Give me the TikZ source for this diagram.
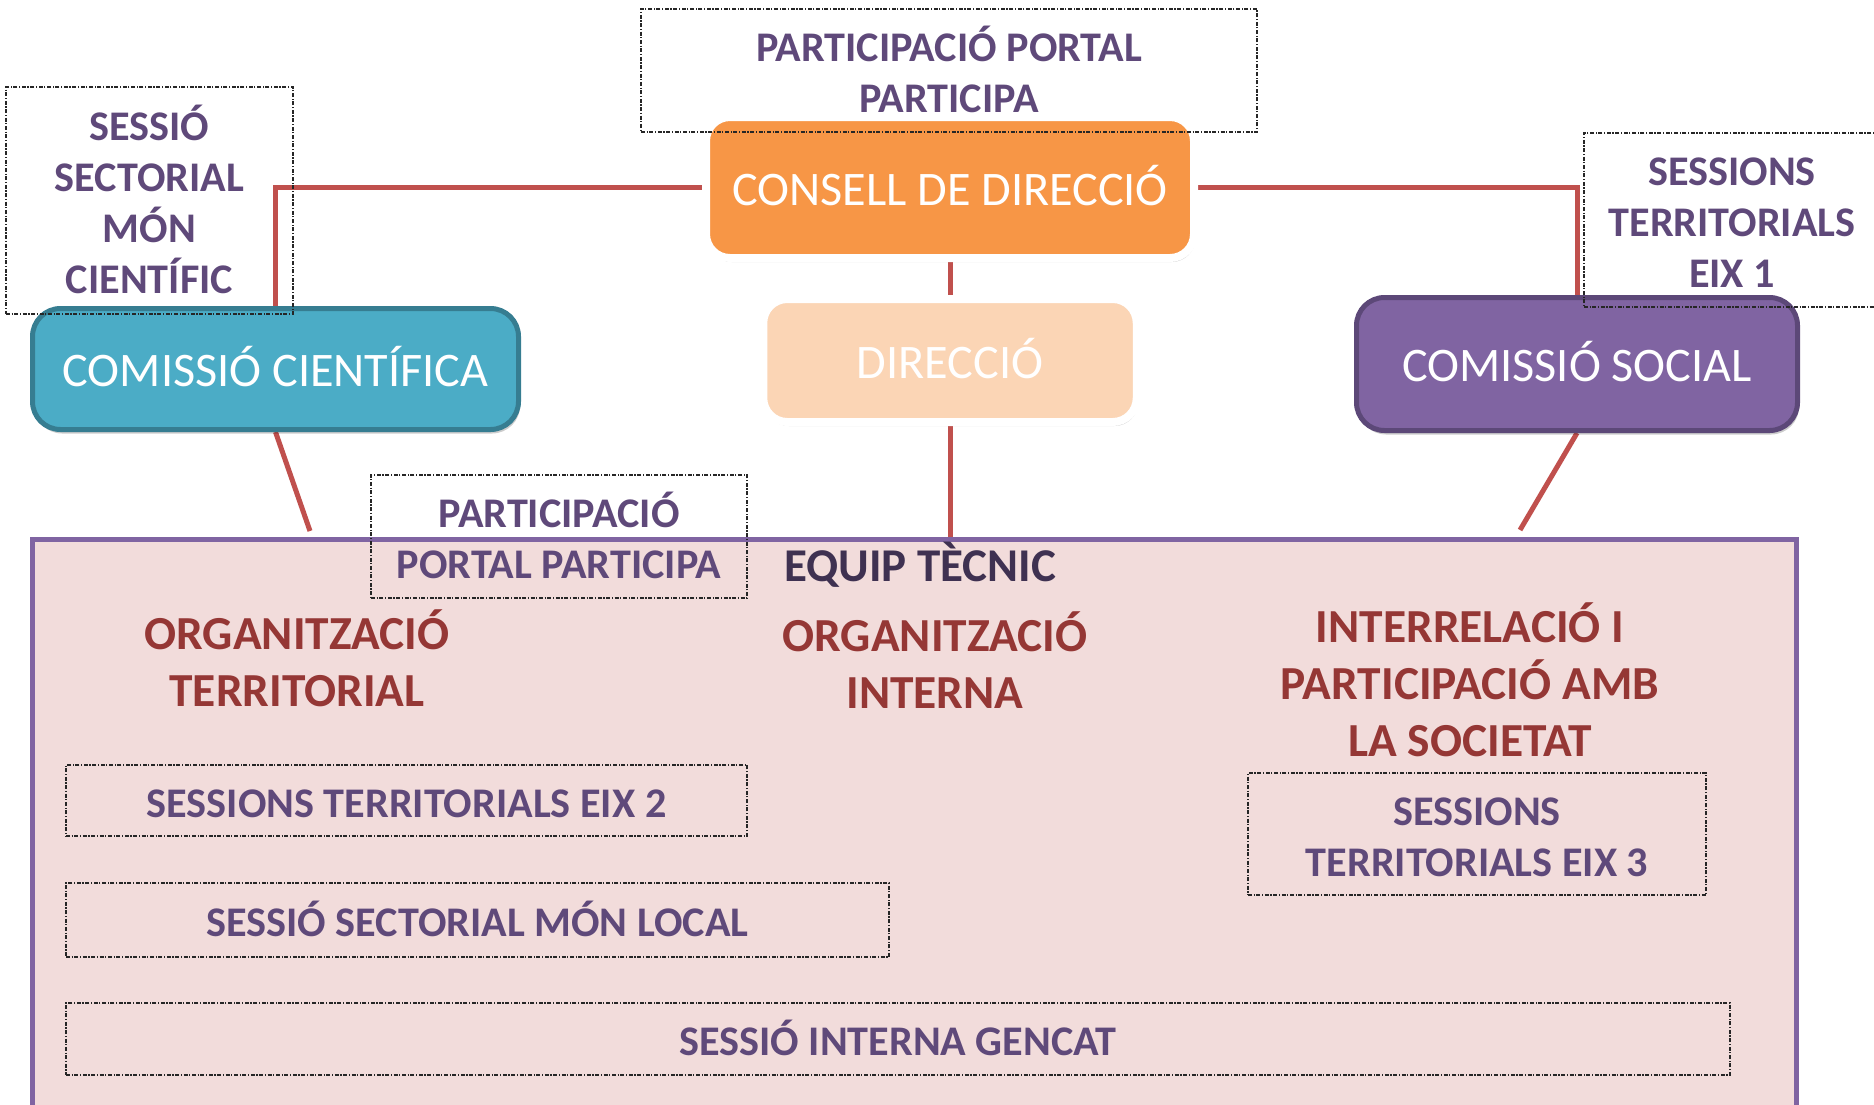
\documentclass[tikz,border=0pt]{standalone}
\usepackage{fontspec}
\setmainfont{Carlito}
\usetikzlibrary{shadows,backgrounds}
\definecolor{orangeC}{HTML}{F79646}
\definecolor{peachC}{HTML}{FBD5B5}
\definecolor{tealF}{HTML}{4BACC6}
\definecolor{tealB}{HTML}{367D91}
\definecolor{purpF}{HTML}{8064A2}
\definecolor{purpB}{HTML}{5C4878}
\definecolor{pinkF}{HTML}{F2DCDB}
\definecolor{lineR}{HTML}{C0504D}
\definecolor{txtP}{HTML}{5F497A}
\definecolor{txtR}{HTML}{953735}
\definecolor{txtD}{HTML}{3F3151}
\tikzset{
  mainbox/.style={rounded corners=12pt, inner sep=0pt, text=white,
    font=\fontsize{24.1pt}{29pt}\selectfont, text height=17.6pt, text depth=0pt},
  shad/.style={drop shadow={shadow xshift=0.8pt, shadow yshift=-2pt, opacity=0.2, fill=black}},
  dbox/.style={draw=black!85, line width=0.6pt, dash pattern=on 2pt off 0.8pt on 0.6pt off 0.8pt,
    inner sep=0pt, align=flush center, text=txtP,
    font=\bfseries\fontsize{21.1pt}{25.5pt}\selectfont, text height=16.9pt, text depth=0pt},
  head/.style={text=txtR, font=\bfseries\fontsize{23.7pt}{28.5pt}\selectfont, align=flush center, inner sep=0pt},
  conn/.style={draw=lineR, line width=2.5pt},
}
\begin{document}
\begin{tikzpicture}[x=0.5pt,y=-0.5pt]
\useasboundingbox (0,0) rectangle (1874,1104);
\clip (0,0) rectangle (1874,1104);
% big box
\node[fill=pinkF, draw=purpF, line width=2.5pt, minimum width=882pt, minimum height=300pt, inner sep=0pt]
  (tecnic) at (914.5,839.5) {};
% main boxes
\node[mainbox, shad, fill=orangeC, draw=white, line width=4pt, minimum width=244pt, minimum height=70.5pt]
  (consell) at (950,187.5) {CONSELL DE DIRECCIÓ};
\node[mainbox, shad, fill=peachC, draw=white, line width=4pt, minimum width=186.75pt, minimum height=61.5pt]
  (direccio) at (950,360.5) {DIRECCIÓ};
\node[mainbox, shad, rounded corners=14pt, fill=tealF, draw=tealB, line width=2.5pt, minimum width=243pt, minimum height=60.5pt]
  (comcient) at (275.5,369) {COMISSIÓ CIENTÍFICA};
\node[mainbox, shad, rounded corners=14pt, fill=purpF, draw=purpB, line width=2.5pt, minimum width=220.5pt, minimum height=66.5pt]
  (comsocial) at (1577,364) {COMISSIÓ SOCIAL};
\coordinate (cA) at (310,531);
\coordinate (cB) at (1520,530);
\begin{pgfonlayer}{background}
\draw[conn] (consell.west) -| (comcient.north);
\draw[conn] (consell.east) -| (comsocial.north);
\draw[conn] (consell.south) -- (direccio.north);
\draw[conn] (direccio.south) -- (direccio.south |- tecnic.north);
\draw[conn] (comcient.south) -- (cA);
\draw[conn] (comsocial.south) -- (cB);
\end{pgfonlayer}
% headings
\node[font=\bfseries\fontsize{23.5pt}{28pt}\selectfont, text=txtD, anchor=base, inner sep=0pt]
  (equiptxt) at (920,581) {EQUIP TÈCNIC};
\node[head, text width=200pt, anchor=base] (orgterr) at (297,649.5) {ORGANITZACIÓ\\TERRITORIAL};
\node[head, text width=200pt, anchor=base] (orgint) at (935,651.5) {ORGANITZACIÓ\\INTERNA};
\node[head, text width=230pt, anchor=base] (interrel) at (1470,642.5) {INTERRELACIÓ I\\PARTICIPACIÓ AMB\\LA SOCIETAT};
% dashed boxes
\node[dbox, minimum width=143.5pt, minimum height=113.5pt, text width=140pt, text depth=76.5pt]
  (dA) at (149.5,200.5) {SESSIÓ\\SECTORIAL\\MÓN\\CIENTÍFIC};
\node[dbox, minimum width=308pt, minimum height=61.5pt, text width=300pt, text depth=25.5pt]
  (dB) at (949,70.5) {PARTICIPACIÓ PORTAL\\PARTICIPA};
\node[dbox, minimum width=148pt, minimum height=87pt, text width=145pt, text depth=51pt]
  (dC) at (1732,220) {SESSIONS\\TERRITORIALS\\EIX 1};
\node[dbox, minimum width=188pt, minimum height=61.5pt, text width=185pt, text depth=25.5pt]
  (dD) at (559,536.5) {PARTICIPACIÓ\\PORTAL PARTICIPA};
\node[dbox, minimum width=340.5pt, minimum height=35.5pt]
  (dE) at (406.5,800.5) {SESSIONS TERRITORIALS EIX 2};
\node[dbox, minimum width=411.5pt, minimum height=37pt]
  (dF) at (477.5,920) {SESSIÓ SECTORIAL MÓN LOCAL};
\node[dbox, minimum width=832pt, minimum height=36pt]
  (dG) at (898,1039) {SESSIÓ INTERNA GENCAT};
\node[dbox, minimum width=229pt, minimum height=61pt, text width=225pt, text depth=25.5pt]
  (dH) at (1477,834) {SESSIONS\\TERRITORIALS EIX 3};
\end{tikzpicture}
\end{document}
